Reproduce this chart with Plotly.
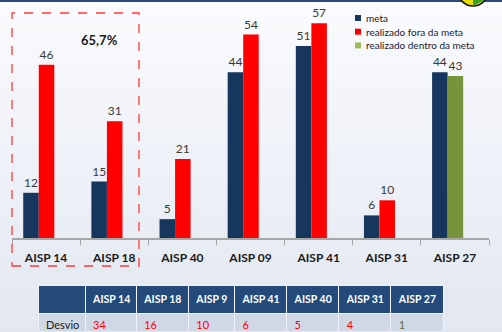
import plotly.graph_objects as go

# chart data
categorias = ["AISP 14", "AISP 18", "AISP 40", "AISP 09", "AISP 41", "AISP 31", "AISP 27"]
meta = [12, 15, 5, 44, 51, 6, 44]
realizado = [46, 31, 21, 54, 57, 10, 43]
destaque = "65,7%"
legenda = ["meta", "realizado fora da meta", "realizado dentro da meta"]

# table data
tab_colunas = ["AISP 14", "AISP 18", "AISP 9", "AISP 41", "AISP 40", "AISP 31", "AISP 27"]
desvio = [34, 16, 10, 6, 5, 4, 1]

W, H = 502, 332
NAVY = "#17365d"
RED = "#ff0000"
GREEN = "#77933c"
GREEN_LEG = "#9bbb59"

# bar slots: three slots per category, third one (dentro da meta) empty
BAR_W = 0.228
OFF0 = -0.335


def px(x):
    return x / W


def py(y):
    return 1 - y / H


# red bar except the one inside target (AISP 27) which is green
cores_real = [GREEN if r <= m else RED for m, r in zip(meta, realizado)]

fig = go.Figure()

fig.add_trace(go.Bar(
    x=categorias, y=meta, name=legenda[0],
    width=BAR_W, offset=OFF0,
    marker=dict(color=NAVY, line=dict(width=0)),
    text=meta, textposition="outside", cliponaxis=False,
    textfont=dict(color="#3a3a3a", size=12),
))
fig.add_trace(go.Bar(
    x=categorias, y=realizado, name=legenda[1],
    width=BAR_W, offset=OFF0 + BAR_W,
    marker=dict(color=cores_real, line=dict(width=0)),
    text=realizado, textposition="outside", cliponaxis=False,
    textfont=dict(color="#3a3a3a", size=12),
))

# table at the bottom (non-breaking spaces keep headers on one line)
fig.add_trace(go.Table(
    domain=dict(x=[px(38), px(443)], y=[py(332), py(285)]),
    columnwidth=[47, 51, 52, 46, 52, 52, 52, 52],
    header=dict(
        values=[""] + ["<b>%s</b>" % c.replace(" ", "\u00a0") for c in tab_colunas],
        fill_color="#234a7a",
        line=dict(color="#f0f2f8", width=1),
        font=dict(color="white", size=10.5, family="Lato"),
        align="left", height=19,
    ),
    cells=dict(
        values=[["Desvio"]] + [[v] for v in desvio],
        fill_color="#d0d8e6",
        line=dict(color="#f0f2f8", width=1),
        font=dict(color=[["#1a1a1a"]] + [[RED]] * 6 + [["#5f6f28"]], size=11, family="Lato"),
        align="left", height=26,
    ),
))

# background bands (light gradient)
shapes = []
n = 30
top = (250, 251, 253)
bot = (226, 231, 241)
for i in range(n):
    t = i / (n - 1)
    c = tuple(round(top[k] + (bot[k] - top[k]) * t) for k in range(3))
    shapes.append(dict(
        type="rect", xref="paper", yref="paper", layer="below",
        x0=0, x1=1, y0=1 - (i + 1) / n, y1=1 - i / n,
        fillcolor="rgb(%d,%d,%d)" % c, line=dict(width=0),
    ))
# top border line
shapes.append(dict(type="rect", xref="paper", yref="paper", layer="above",
                   x0=0, x1=1, y0=py(2), y1=1, fillcolor="#2c4c7a", line=dict(width=0)))
# little indicator disc cut by the top edge
shapes.append(dict(type="circle", xref="paper", yref="paper", layer="above",
                   x0=px(458), x1=px(488), y0=py(6), y1=py(-24),
                   fillcolor="#e8e000", line=dict(color="#111111", width=1.5)))
shapes.append(dict(type="path", xref="paper", yref="paper", layer="above",
                   path="M %f %f L %f %f L %f %f Z" % (px(473), py(-9), px(488), py(-2), px(473), py(6)),
                   fillcolor="#3aa020", line=dict(width=0)))
# dashed highlight box
shapes.append(dict(type="rect", xref="paper", yref="paper", layer="above",
                   x0=px(12), x1=px(139), y0=py(266), y1=py(13),
                   line=dict(color="#ff3b3b", width=1.3, dash="dash")))

annotations = [dict(
    text="<b>%s</b>" % destaque, x=px(79), y=py(30), xref="paper", yref="paper",
    showarrow=False, font=dict(size=13, color="#1a1a1a"),
)]

# legend drawn by hand: small square + label
leg_cores = [NAVY, RED, GREEN_LEG]
for i, (nome, cor) in enumerate(zip(legenda, leg_cores)):
    yc = 18 + i * 13.7
    shapes.append(dict(type="rect", xref="paper", yref="paper", layer="above",
                       x0=px(355), x1=px(361), y0=py(yc + 3), y1=py(yc - 3),
                       fillcolor=cor, line=dict(width=0)))
    annotations.append(dict(
        text=nome, x=px(364), y=py(yc), xref="paper", yref="paper",
        xanchor="left", yanchor="middle", showarrow=False,
        font=dict(size=10, color="#1a1a2a"),
    ))

fig.update_layout(
    width=W, height=H,
    margin=dict(l=0, r=0, t=0, b=0),
    paper_bgcolor="#eef1f7",
    plot_bgcolor="rgba(0,0,0,0)",
    font=dict(family="Lato", color="#1a1a1a"),
    barmode="overlay",
    showlegend=False,
    shapes=shapes,
    annotations=annotations,
    xaxis=dict(
        domain=[px(12), px(489)],
        range=[-0.5, len(categorias) - 0.5],
        showline=True, linecolor="#a6a6a6", linewidth=1.5,
        ticks="outside", tickson="boundaries", ticklen=5, tickcolor="#a6a6a6",
        tickfont=dict(size=12, color="#1a1a1a", family="Lato"),
        ticklabelstandoff=8,
        tickprefix="<b>", ticksuffix="</b>",
        showgrid=False, fixedrange=True,
    ),
    yaxis=dict(
        domain=[py(238), py(12)],
        range=[0, 60],
        visible=False, showgrid=False, zeroline=False, fixedrange=True,
    ),
)

# page body has a default 8px margin; drop it so the figure fills the window
fig.write_html("out.html", config={"displayModeBar": False},
               post_script="document.body.style.margin='0';")
